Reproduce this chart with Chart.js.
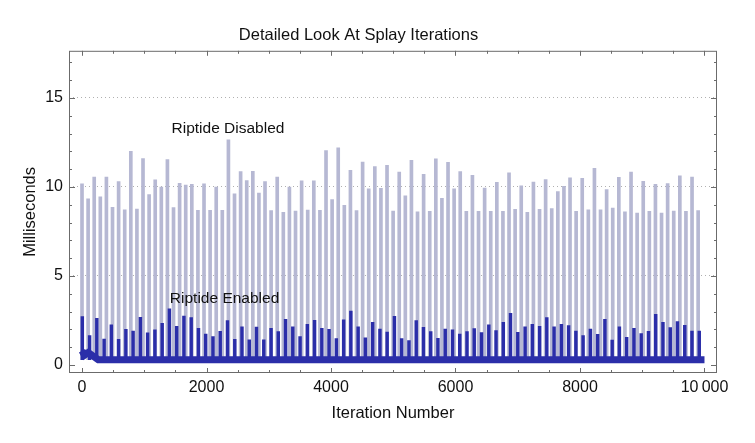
<!DOCTYPE html>
<html>
<head>
<meta charset="utf-8">
<script src="https://cdn.jsdelivr.net/npm/chart.js@4/dist/chart.umd.min.js"></script>
<style>
  html, body { margin: 0; padding: 0; background: #fff; }
  #wrap { width: 755px; height: 443px; }
</style>
</head>
<body>
<div id="wrap"><canvas id="chart" width="755" height="443"></canvas></div>
<script>
/* global Chart */

// Riptide Disabled: spike positions (iteration) and peak heights (ms)
const disabledX = [
  0, 98, 196, 294, 392, 490, 588, 686, 784, 882, 980, 1078, 1176, 1274, 1372, 1470, 1568,
  1666, 1764, 1862, 1960, 2058, 2156, 2254, 2352, 2450, 2548, 2646, 2744, 2842, 2940, 3038,
  3136, 3234, 3332, 3430, 3528, 3626, 3724, 3822, 3920, 4018, 4116, 4214, 4312, 4410, 4508,
  4606, 4704, 4802, 4900, 4998, 5096, 5194, 5292, 5390, 5488, 5586, 5684, 5782, 5880, 5978,
  6076, 6174, 6272, 6370, 6468, 6566, 6664, 6762, 6860, 6958, 7056, 7154, 7252, 7350, 7448,
  7546, 7644, 7742, 7840, 7938, 8036, 8134, 8232, 8330, 8428, 8526, 8624, 8722, 8820, 8918,
  9016, 9114, 9212, 9310, 9408, 9506, 9604, 9702, 9800, 9898
]
const disabledMs = [
  10.17, 9.34, 10.56, 9.44, 10.56, 8.86, 10.3, 8.72, 12.0, 8.76, 11.6, 9.57, 10.4, 10.0, 11.54,
  8.84, 10.2, 10.1, 10.15, 8.69, 10.17, 8.69, 10.0, 8.69, 12.65, 9.62, 10.86, 10.36, 10.88, 9.66,
  10.3, 8.67, 10.56, 8.57, 10.0, 8.65, 10.34, 8.7, 10.34, 8.69, 12.04, 9.29, 12.2, 8.97, 10.94,
  8.67, 11.4, 9.89, 11.14, 9.92, 11.22, 8.65, 10.83, 9.5,
  11.5, 8.61, 10.71, 8.63, 11.58, 9.36, 11.39, 9.9, 10.86, 8.63, 10.66, 8.63, 9.94, 8.63, 10.26,
  8.63, 10.8, 8.74, 10.07, 8.57, 10.28, 8.74, 10.41, 8.78, 9.74, 10.04, 10.51, 8.63, 10.49, 8.71,
  11.05, 8.71, 9.85, 8.82, 10.54, 8.61, 10.83, 8.54, 10.32, 8.63, 10.15, 8.54, 10.19, 8.65, 10.62,
  8.63, 10.56, 8.67
]

// Riptide Enabled: spike positions and peak heights
const enabledX = [
  5, 122, 238, 355, 471, 588, 705, 821, 938, 1054, 1171, 1288, 1404, 1521, 1637, 1754, 1871,
  1987, 2104, 2220, 2337, 2454, 2570, 2687, 2803, 2920, 3037, 3153, 3270, 3386, 3503, 3620,
  3736, 3853, 3969, 4086, 4203, 4319, 4436, 4552, 4669, 4786, 4902, 5019, 5135, 5252, 5369,
  5485, 5602, 5718, 5835, 5952, 6068, 6185, 6301, 6418, 6535, 6651, 6768, 6884, 7001, 7118,
  7234, 7351, 7467, 7584, 7701, 7817, 7934, 8050, 8167, 8284, 8400, 8517, 8633, 8750, 8867,
  8983, 9100, 9216, 9333, 9450, 9566, 9683, 9799, 9916
]
const enabledMs = [
  2.72, 1.65, 2.62, 1.46, 2.25, 1.44, 2.0, 1.91, 2.68, 1.8, 1.97, 2.34, 3.15, 2.17, 2.75, 2.66,
  2.06, 1.74, 1.59, 1.89, 2.49, 1.44, 2.15, 1.42, 2.13, 1.42, 2.06, 1.87, 2.57,
  2.15, 1.59, 2.28, 2.51, 2.06, 2.0, 1.48, 2.53, 3.03, 2.15, 1.52, 2.4, 2.02, 1.85, 2.73, 1.48,
  1.37, 2.49, 2.11, 1.87, 1.5, 2.02, 1.97, 1.74, 1.87, 2.04, 1.82, 2.25, 1.93, 2.4,
  2.9, 1.84, 2.14, 2.28, 2.17, 2.66, 2.14, 2.28, 2.21, 1.91, 1.65, 2.02, 1.72, 2.57, 1.4, 2.14,
  1.55, 2.06, 1.76, 1.89, 2.85, 2.4, 2.1, 2.44, 2.23, 1.91, 1.91
]

// floor level between spikes (Riptide Enabled), with the warm-up at the start
const floorX = [0, 40, 100, 180, 260, 10000]
const floorMs = [0.8, 0.55, 0.7, 0.5, 0.3, 0.3]
const spikeBaseMs = 0.3

const xTickValues = [0, 2000, 4000, 6000, 8000, 10000]
const xTickLabels = ['0', '2000', '4000', '6000', '8000', '10\u2009000']
const yTickValues = [0, 5, 10, 15]
const yTickLabels = ['0', '5', '10', '15']

const seriesNames = ['Riptide Disabled', 'Riptide Enabled']

const LIGHT = '#b6b8d3'
const DARK = '#2b2ea9'
const FONT = '"Liberation Sans", Arial, Helvetica, sans-serif'

const labelSpots = [
  { text: seriesNames[0], x: 2345, y: 13.25 },
  { text: seriesNames[1], x: 2290, y: 3.7 }
]

const frameTicks = {
  id: 'frameTicks',
  afterDatasetsDraw (chart) {
    const { ctx, chartArea: a, scales: { x, y } } = chart
    ctx.save()
    ctx.strokeStyle = '#6b6b6b'
    ctx.lineWidth = 1
    ctx.strokeRect(a.left + 0.5, a.top + 0.5, a.right - a.left - 1, a.bottom - a.top - 1)
    ctx.beginPath()
    for (let v = 0; v <= 10000; v += 500) {
      const px = Math.round(x.getPixelForValue(v)) + 0.5
      const len = v % 2000 === 0 ? 5 : 3
      ctx.moveTo(px, a.bottom); ctx.lineTo(px, a.bottom - len)
      ctx.moveTo(px, a.top); ctx.lineTo(px, a.top + len)
    }
    for (let v = 0; v <= 17; v += 1) {
      const py = Math.round(y.getPixelForValue(v)) + 0.5
      const len = v % 5 === 0 ? 6 : 3
      ctx.moveTo(a.left, py); ctx.lineTo(a.left + len, py)
      ctx.moveTo(a.right, py); ctx.lineTo(a.right - len, py)
    }
    ctx.stroke()

    ctx.fillStyle = '#111'
    ctx.font = '15.5px ' + FONT
    ctx.textAlign = 'center'
    ctx.textBaseline = 'middle'
    labelSpots.forEach(l => {
      ctx.fillText(l.text, x.getPixelForValue(l.x), y.getPixelForValue(l.y))
    })
    ctx.restore()
  }
}

function spikeBars (xs, tops) {
  return xs.map((v, i) => ({ x: v, y: [spikeBaseMs, tops[i]] }))
}

new Chart(document.getElementById('chart'), {
  type: 'bar',
  data: {
    datasets: [
      {
        label: seriesNames[0],
        data: spikeBars(disabledX, disabledMs),
        backgroundColor: LIGHT,
        barThickness: 3,
        grouped: false,
        order: 3
      },
      {
        label: seriesNames[1],
        data: spikeBars(enabledX, enabledMs),
        backgroundColor: DARK,
        barThickness: 2.8,
        grouped: false,
        order: 2
      },
      {
        type: 'line',
        label: seriesNames[1] + ' floor',
        data: floorX.map((v, i) => ({ x: v, y: floorMs[i] })),
        borderColor: DARK,
        borderWidth: 7,
        pointRadius: 0,
        tension: 0,
        borderCapStyle: 'butt',
        order: 1
      }
    ]
  },
  plugins: [frameTicks],
  options: {
    responsive: false,
    animation: false,
    devicePixelRatio: 1,
    layout: { padding: { left: 0, right: 38, top: 0, bottom: 0 } },
    plugins: {
      legend: { display: false },
      tooltip: { enabled: false },
      title: {
        display: true,
        text: 'Detailed Look At Splay Iterations',
        color: '#111',
        font: { family: FONT, size: 16.5, weight: 'normal' },
        padding: { top: 26, bottom: 5 }
      }
    },
    scales: {
      x: {
        type: 'linear',
        min: -209,
        max: 10201,
        offset: false,
        afterBuildTicks: s => { s.ticks = xTickValues.map(v => ({ value: v })) },
        afterFit: s => { s.height = 70 },
        ticks: {
          color: '#111',
          font: { family: FONT, size: 16 },
          padding: 5,
          maxRotation: 0,
          autoSkip: false,
          callback: v => xTickLabels[xTickValues.indexOf(v)]
        },
        grid: { display: false, drawTicks: false },
        border: { display: false },
        title: {
          display: true,
          text: 'Iteration Number',
          color: '#111',
          font: { family: FONT, size: 16.5 },
          padding: { top: 0, bottom: 20 }
        }
      },
      y: {
        type: 'linear',
        min: -0.45,
        max: 17.65,
        afterBuildTicks: s => { s.ticks = yTickValues.map(v => ({ value: v })) },
        afterFit: s => { s.width = 69 },
        ticks: {
          color: '#111',
          font: { family: FONT, size: 16 },
          padding: 6,
          callback: v => yTickLabels[yTickValues.indexOf(v)]
        },
        grid: {
          drawTicks: false,
          color: c => (c.tick && c.tick.value > 0 ? '#b0b0b0' : 'rgba(0,0,0,0)'),
          lineWidth: 1
        },
        border: { display: false, dash: [1, 3] },
        title: {
          display: true,
          text: 'Milliseconds',
          color: '#111',
          font: { family: FONT, size: 16.5 },
          padding: { top: 21, bottom: 0 }
        }
      }
    }
  }
})
</script>
</body>
</html>
